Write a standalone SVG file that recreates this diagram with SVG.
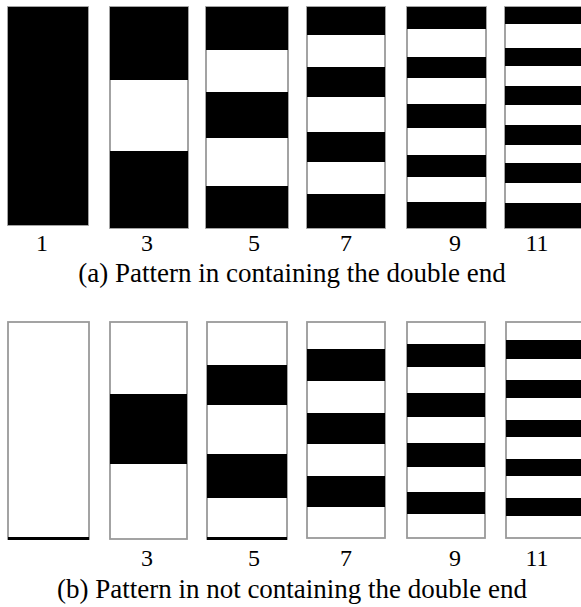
<svg xmlns="http://www.w3.org/2000/svg" width="581" height="607" viewBox="0 0 581 607">
<style>
.frame{fill:#fff;stroke:#9a9a9a;stroke-width:1.8}
.b{fill:#000}
.num{font-family:"Liberation Serif","Times New Roman",serif;font-size:24px;fill:#000;text-anchor:middle}
.cap{font-family:"Liberation Serif","Times New Roman",serif;font-size:27px;fill:#000;text-anchor:middle}
</style>
<rect width="581" height="607" fill="#fff"/>
<g id="row-a">
<g id="a1">
<rect class="frame" x="8" y="7" width="80" height="218"/>
<rect class="b" x="8" y="7" width="80" height="218"/>
</g>
<g id="a3">
<rect class="frame" x="110" y="7" width="78" height="221"/>
<rect class="b" x="110" y="7" width="78" height="73"/>
<rect class="b" x="110" y="151" width="78" height="77"/>
</g>
<g id="a5">
<rect class="frame" x="206" y="7" width="82" height="221"/>
<rect class="b" x="206" y="7" width="82" height="43"/>
<rect class="b" x="206" y="92" width="82" height="46"/>
<rect class="b" x="206" y="186" width="82" height="42"/>
</g>
<g id="a7">
<rect class="frame" x="307" y="7" width="78" height="221"/>
<rect class="b" x="307" y="7" width="78" height="28"/>
<rect class="b" x="307" y="67" width="78" height="30"/>
<rect class="b" x="307" y="132" width="78" height="30"/>
<rect class="b" x="307" y="194" width="78" height="34"/>
</g>
<g id="a9">
<rect class="frame" x="407" y="7" width="79" height="221"/>
<rect class="b" x="407" y="7" width="79" height="22"/>
<rect class="b" x="407" y="57" width="79" height="21"/>
<rect class="b" x="407" y="104" width="79" height="24"/>
<rect class="b" x="407" y="155" width="79" height="22"/>
<rect class="b" x="407" y="202" width="79" height="26"/>
</g>
<g id="a11">
<rect class="frame" x="505" y="7" width="80" height="221"/>
<rect class="b" x="505" y="7" width="80" height="17"/>
<rect class="b" x="505" y="48" width="80" height="18"/>
<rect class="b" x="505" y="86" width="80" height="19"/>
<rect class="b" x="505" y="125" width="80" height="20"/>
<rect class="b" x="505" y="163" width="80" height="20"/>
<rect class="b" x="505" y="203" width="80" height="25"/>
</g>
<g id="labels-a">
<text class="num" x="42" y="251">1</text>
<text class="num" x="147" y="251">3</text>
<text class="num" x="254" y="251">5</text>
<text class="num" x="346" y="251">7</text>
<text class="num" x="455" y="251">9</text>
<text class="num" x="537" y="251">11</text>
<text class="cap" x="292" y="282">(a) Pattern in containing the double end</text>
</g>
</g>
<g id="row-b">
<g id="b1">
<rect class="frame" x="8" y="322" width="81" height="217"/>
<rect class="b" x="8" y="537" width="81" height="3"/>
</g>
<g id="b3">
<rect class="frame" x="110" y="322" width="77" height="217"/>
<rect class="b" x="110" y="394" width="77" height="70"/>
</g>
<g id="b5">
<rect class="frame" x="207" y="322" width="80" height="217"/>
<rect class="b" x="207" y="365" width="80" height="40"/>
<rect class="b" x="207" y="454" width="80" height="44"/>
<rect class="b" x="207" y="537" width="80" height="3"/>
</g>
<g id="b7">
<rect class="frame" x="307" y="322" width="78" height="216"/>
<rect class="b" x="307" y="349" width="78" height="32"/>
<rect class="b" x="307" y="413" width="78" height="31"/>
<rect class="b" x="307" y="476" width="78" height="31"/>
</g>
<g id="b9">
<rect class="frame" x="407" y="322" width="78" height="216"/>
<rect class="b" x="407" y="344" width="78" height="23"/>
<rect class="b" x="407" y="393" width="78" height="24"/>
<rect class="b" x="407" y="443" width="78" height="24"/>
<rect class="b" x="407" y="492" width="78" height="22"/>
</g>
<g id="b11">
<rect class="frame" x="506" y="322" width="80" height="216"/>
<rect class="b" x="506" y="340" width="80" height="19"/>
<rect class="b" x="506" y="380" width="80" height="18"/>
<rect class="b" x="506" y="420" width="80" height="17"/>
<rect class="b" x="506" y="459" width="80" height="17"/>
<rect class="b" x="506" y="498" width="80" height="18"/>
</g>
<g id="labels-b">
<text class="num" x="147" y="566">3</text>
<text class="num" x="254" y="566">5</text>
<text class="num" x="346" y="566">7</text>
<text class="num" x="455" y="566">9</text>
<text class="num" x="537" y="566">11</text>
<text class="cap" x="292" y="598">(b) Pattern in not containing the double end</text>
</g>
</g>
</svg>
